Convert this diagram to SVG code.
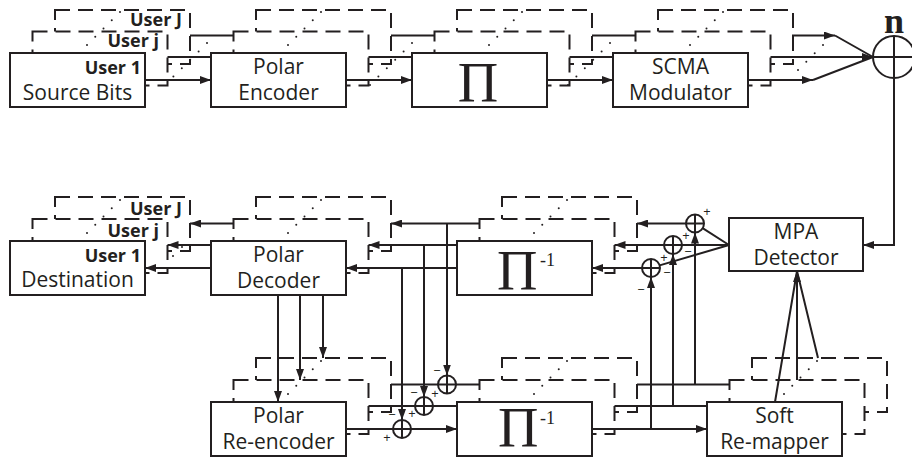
<svg xmlns="http://www.w3.org/2000/svg" width="912" height="460" viewBox="0 0 912 460">
<defs>
<style>
.box{fill:#fff;stroke:#231f20;stroke-width:2}
.dash{fill:#fff;stroke:#231f20;stroke-width:2;stroke-dasharray:15 8}
.ln{fill:none;stroke:#231f20;stroke-width:2}
.add{fill:none;stroke:#231f20;stroke-width:2}
.t{font-family:"Open Sans","Noto Sans",sans-serif;font-size:21px;fill:#231f20;text-anchor:middle}
.u{font-family:"Open Sans","Noto Sans",sans-serif;font-size:18px;font-weight:bold;fill:#231f20;text-anchor:end}
.pi{font-family:"Liberation Serif","DejaVu Serif",serif;font-size:56px;fill:#231f20}
.sup{font-family:"Liberation Serif","DejaVu Serif",serif;font-size:18px;fill:#231f20}
.s{font-family:"Open Sans","Noto Sans",sans-serif;font-size:13px;fill:#231f20;text-anchor:middle}
.d{fill:#231f20}
</style>
<marker id="ah" markerWidth="11" markerHeight="8" refX="11" refY="4" orient="auto" markerUnits="userSpaceOnUse"><path d="M0,0L11,4L0,8z" fill="#231f20"/></marker>
</defs>
<rect width="912" height="460" fill="#fff"/>

<g id="source">
<rect class="dash" x="55" y="10" width="135" height="54"/>
<rect class="dash" x="32.5" y="31.5" width="135" height="54"/>
<rect class="box" x="10" y="53" width="135" height="54"/>
<text class="u" x="182" y="26">User J</text>
<text class="u" x="159" y="47">User j</text>
<text class="u" x="141" y="74">User 1</text>
<text class="t" x="77.5" y="100">Source Bits</text>
<g class="d"><circle cx="120" cy="12" r="1"/><circle cx="111.75" cy="20.25" r="1"/><circle cx="103.5" cy="28.5" r="1"/><circle cx="95.25" cy="36.75" r="1"/><circle cx="87" cy="45" r="1"/></g>
</g>

<g id="polar-encoder">
<rect class="dash" x="256" y="10" width="135" height="54"/>
<rect class="dash" x="233.5" y="31.5" width="135" height="54"/>
<rect class="box" x="211" y="53" width="135" height="54"/>
<text class="t" x="278.5" y="74">Polar</text>
<text class="t" x="278.5" y="100">Encoder</text>
<g class="d"><circle cx="321" cy="12" r="1"/><circle cx="312.75" cy="20.25" r="1"/><circle cx="304.5" cy="28.5" r="1"/><circle cx="296.25" cy="36.75" r="1"/><circle cx="288" cy="45" r="1"/></g>
</g>

<g id="interleaver">
<rect class="dash" x="457" y="10" width="135" height="54"/>
<rect class="dash" x="434.5" y="31.5" width="135" height="54"/>
<rect class="box" x="412" y="53" width="135" height="54"/>
<text class="pi" x="478" y="102" text-anchor="middle">Π</text>
<g class="d"><circle cx="522" cy="12" r="1"/><circle cx="513.75" cy="20.25" r="1"/><circle cx="505.5" cy="28.5" r="1"/><circle cx="497.25" cy="36.75" r="1"/><circle cx="489" cy="45" r="1"/></g>
</g>

<g id="scma-modulator">
<rect class="dash" x="658" y="10" width="135" height="54"/>
<rect class="dash" x="635.5" y="31.5" width="135" height="54"/>
<rect class="box" x="613" y="53" width="135" height="54"/>
<text class="t" x="680.5" y="74">SCMA</text>
<text class="t" x="680.5" y="100">Modulator</text>
<g class="d"><circle cx="723" cy="12" r="1"/><circle cx="714.75" cy="20.25" r="1"/><circle cx="706.5" cy="28.5" r="1"/><circle cx="698.25" cy="36.75" r="1"/><circle cx="690" cy="45" r="1"/></g>
</g>

<g id="channel-adder">
<circle class="add" cx="894" cy="57" r="21"/>
<text x="894" y="33" font-family="Liberation Serif, serif" font-size="36" font-weight="bold" fill="#231f20" text-anchor="middle">n</text>
</g>

<g id="destination">
<rect class="dash" x="55" y="197" width="135" height="54"/>
<rect class="dash" x="32.5" y="219" width="135" height="54"/>
<rect class="box" x="10" y="241" width="135" height="54"/>
<text class="u" x="182" y="215">User J</text>
<text class="u" x="159" y="237">User j</text>
<text class="u" x="141" y="262">User 1</text>
<text class="t" x="77.5" y="287">Destination</text>
<g class="d"><circle cx="120" cy="200" r="1"/><circle cx="111.75" cy="208.25" r="1"/><circle cx="103.5" cy="216.5" r="1"/><circle cx="95.25" cy="224.75" r="1"/><circle cx="87" cy="233" r="1"/></g>
</g>

<g id="polar-decoder">
<rect class="dash" x="256" y="197" width="135" height="54"/>
<rect class="dash" x="233.5" y="219" width="135" height="54"/>
<rect class="box" x="211" y="241" width="135" height="54"/>
<text class="t" x="278.5" y="262">Polar</text>
<text class="t" x="278.5" y="288">Decoder</text>
<g class="d"><circle cx="321" cy="200" r="1"/><circle cx="312.75" cy="208.25" r="1"/><circle cx="304.5" cy="216.5" r="1"/><circle cx="296.25" cy="224.75" r="1"/><circle cx="288" cy="233" r="1"/></g>
</g>

<g id="deinterleaver-1">
<rect class="dash" x="502" y="197" width="135" height="54"/>
<rect class="dash" x="479.5" y="219" width="135" height="54"/>
<rect class="box" x="457" y="241" width="135" height="54"/>
<text class="pi" x="497" y="290">Π<tspan class="sup" x="540" y="266">-1</tspan></text>
<g class="d"><circle cx="567" cy="200" r="1"/><circle cx="558.75" cy="208.25" r="1"/><circle cx="550.5" cy="216.5" r="1"/><circle cx="542.25" cy="224.75" r="1"/><circle cx="534" cy="233" r="1"/></g>
</g>

<g id="mpa-detector">
<rect class="box" x="729" y="218" width="134" height="53"/>
<text class="t" x="796" y="239">MPA</text>
<text class="t" x="796" y="265">Detector</text>
</g>

<g id="polar-reencoder">
<rect class="dash" x="256" y="358" width="135" height="54"/>
<rect class="dash" x="233.5" y="380" width="135" height="54"/>
<rect class="box" x="211" y="402" width="135" height="54"/>
<text class="t" x="278.5" y="423">Polar</text>
<text class="t" x="278.5" y="449">Re-encoder</text>
<g class="d"><circle cx="321" cy="361" r="1"/><circle cx="312.75" cy="369.25" r="1"/><circle cx="304.5" cy="377.5" r="1"/><circle cx="296.25" cy="385.75" r="1"/><circle cx="288" cy="394" r="1"/></g>
</g>

<g id="deinterleaver-2">
<rect class="dash" x="502" y="358" width="135" height="54"/>
<rect class="dash" x="479.5" y="380" width="135" height="54"/>
<rect class="box" x="457" y="402" width="135" height="54"/>
<text class="pi" x="498" y="447">Π<tspan class="sup" x="540" y="424">-1</tspan></text>
<g class="d"><circle cx="567" cy="361" r="1"/><circle cx="558.75" cy="369.25" r="1"/><circle cx="550.5" cy="377.5" r="1"/><circle cx="542.25" cy="385.75" r="1"/><circle cx="534" cy="394" r="1"/></g>
</g>

<g id="soft-remapper">
<rect class="dash" x="752" y="358" width="135" height="54"/>
<rect class="dash" x="729.5" y="380" width="135" height="54"/>
<rect class="box" x="707" y="402" width="135" height="54"/>
<text class="t" x="774.5" y="423">Soft</text>
<text class="t" x="774.5" y="449">Re-mapper</text>
<g class="d"><circle cx="817" cy="361" r="1"/><circle cx="808.75" cy="369.25" r="1"/><circle cx="800.5" cy="377.5" r="1"/><circle cx="792.25" cy="385.75" r="1"/><circle cx="784" cy="394" r="1"/></g>
</g>

<g id="subtractors-detector">
<circle class="add" cx="651" cy="268" r="9"/><path class="ln" d="M642,268H660M651,259V277"/>
<circle class="add" cx="673" cy="245" r="9"/><path class="ln" d="M664,245H682M673,236V254"/>
<circle class="add" cx="695" cy="223.5" r="9"/><path class="ln" d="M686,223.5H704M695,214.5V232.5"/>
<text class="s" x="707" y="216">+</text>
<text class="s" x="686" y="240">+</text>
<text class="s" x="664" y="262">+</text>
<text class="s" x="688" y="256">−</text>
<text class="s" x="667" y="277">−</text>
<text class="s" x="641" y="294">−</text>
</g>

<g id="subtractors-reencoder">
<circle class="add" cx="402" cy="429" r="9"/><path class="ln" d="M393,429H411M402,420V438"/>
<circle class="add" cx="424" cy="406" r="9"/><path class="ln" d="M415,406H433M424,397V415"/>
<circle class="add" cx="447" cy="384.5" r="9"/><path class="ln" d="M438,384.5H456M447,375.5V393.5"/>
<text class="s" x="437" y="375">−</text>
<text class="s" x="414" y="397">−</text>
<text class="s" x="392" y="419">−</text>
<text class="s" x="435" y="398">+</text>
<text class="s" x="412" y="418">+</text>
<text class="s" x="387" y="442">+</text>
</g>

<g id="connectors">
<path class="ln" d="M145,80H211" marker-end="url(#ah)"/>
<path class="ln" d="M167.5,57H211M190,35.5H233.5"/>
<path class="ln" d="M346,80H412" marker-end="url(#ah)"/>
<path class="ln" d="M368.5,57H412M391,35.5H434.5"/>
<path class="ln" d="M547,80H613" marker-end="url(#ah)"/>
<path class="ln" d="M569.5,57H613M592,35.5H635.5"/>
<path class="ln" d="M747,80H813" marker-end="url(#ah)"/>
<path class="ln" d="M813,80L873,57M835,35.5L873,57"/>
<path class="ln" d="M792,35.5H835" marker-end="url(#ah)"/>
<path class="ln" d="M770.5,57H873" marker-end="url(#ah)"/>
<path class="ln" d="M873,57H915M894,36V245H863" marker-end="url(#ah)"/>

<path class="ln" d="M211,268H145" marker-end="url(#ah)"/>
<path class="ln" d="M211,245H167.5" marker-end="url(#ah)"/>
<path class="ln" d="M233.5,223.5H190" marker-end="url(#ah)"/>
<path class="ln" d="M457,268H346" marker-end="url(#ah)"/>
<path class="ln" d="M457,245H368.5" marker-end="url(#ah)"/>
<path class="ln" d="M479.5,223.5H391" marker-end="url(#ah)"/>
<path class="ln" d="M642,268H592" marker-end="url(#ah)"/>
<path class="ln" d="M664,245H614.5" marker-end="url(#ah)"/>
<path class="ln" d="M686,223.5H637" marker-end="url(#ah)"/>
<path class="ln" d="M729,245L702.6,228.2M729,245H682M729,245L659.6,265.4"/>

<path class="ln" d="M651,429V277" marker-end="url(#ah)"/>
<path class="ln" d="M673,406V254" marker-end="url(#ah)"/>
<path class="ln" d="M695,384.5V232.5" marker-end="url(#ah)"/>

<path class="ln" d="M402,268V420" marker-end="url(#ah)"/>
<path class="ln" d="M424,245V397" marker-end="url(#ah)"/>
<path class="ln" d="M447,223.5V375.5" marker-end="url(#ah)"/>

<path class="ln" d="M278,295V402" marker-end="url(#ah)"/>
<path class="ln" d="M300,295V380" marker-end="url(#ah)"/>
<path class="ln" d="M323,295V358" marker-end="url(#ah)"/>

<path class="ln" d="M346,429H393"/>
<path class="ln" d="M411,429H457" marker-end="url(#ah)"/>
<path class="ln" d="M368.5,406H415M433,406H457"/>
<path class="ln" d="M391,384.5H438M456,384.5H479.5"/>
<path class="ln" d="M592,429H707" marker-end="url(#ah)"/>
<path class="ln" d="M614.5,406H707M637,384.5H729.5"/>

<path class="ln" d="M775,402L797,271M818,358L797,271"/>
<path class="ln" d="M797,380V271" marker-end="url(#ah)"/>

<g class="d">
<circle cx="207" cy="43" r="1"/><circle cx="198.6" cy="51.4" r="1"/><circle cx="190.2" cy="59.8" r="1"/><circle cx="181.8" cy="68.2" r="1"/><circle cx="173.4" cy="76.6" r="1"/>
<circle cx="412" cy="43" r="1"/><circle cx="403.6" cy="51.4" r="1"/><circle cx="395.2" cy="59.8" r="1"/><circle cx="386.8" cy="68.2" r="1"/><circle cx="378.4" cy="76.6" r="1"/><circle cx="370" cy="85" r="1"/>
<circle cx="610" cy="43" r="1"/><circle cx="601.6" cy="51.4" r="1"/><circle cx="593.2" cy="59.8" r="1"/><circle cx="584.8" cy="68.2" r="1"/><circle cx="576.4" cy="76.6" r="1"/><circle cx="568" cy="85" r="1"/>
<circle cx="823" cy="45" r="1"/><circle cx="814.7" cy="53.3" r="1"/><circle cx="806.3" cy="61.7" r="1"/><circle cx="798" cy="70" r="1"/>
<circle cx="182" cy="247" r="1"/><circle cx="173" cy="256" r="1"/>
</g>
</g>
</svg>
